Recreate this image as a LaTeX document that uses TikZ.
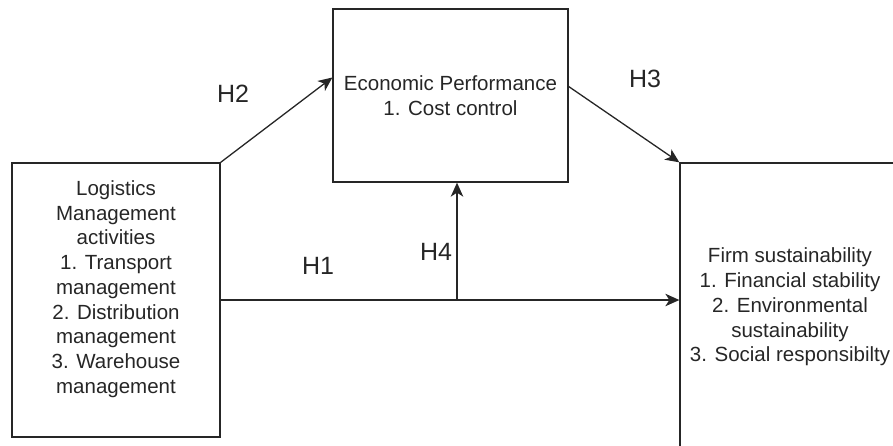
\documentclass[tikz,border=0pt]{standalone}
\usepackage{fontspec}
\setmainfont{Liberation Sans}
\usepackage{tikz}
\usetikzlibrary{arrows.meta}
\usetikzlibrary{calc}

\tikzset{
  box/.style={draw=black!85, line width=1.3pt, rectangle, inner sep=0pt},
  boxtext/.style={align=center, text=black!85, font=\fontsize{20.5}{24.7}\selectfont},
  hlabel/.style={text=black!85, font=\fontsize{25}{30}\selectfont},
  link/.style={draw=black!85, line width=1.3pt, -{Stealth[length=14pt,width=12.5pt,inset=4pt]}}
}

\begin{document}
\begin{tikzpicture}[x=1pt,y=-1pt]
\useasboundingbox (0,0) rectangle (893,445);
\clip (0,0) rectangle (893,445);

% boxes
\node[box, minimum width=208pt, minimum height=274pt] (lm) at (116,300) {};
\node[box, minimum width=235pt, minimum height=173pt] (ep) at (450.5,95.5) {};
\node[box, minimum width=220pt, minimum height=288pt] (fs) at (790,307) {};

\node[boxtext] (lmtext) at ([yshift=11pt]lm.center) {Logistics\\Management\\activities\\1. Transport\\management\\2. Distribution\\management\\3. Warehouse\\management};
\node[boxtext] (eptext) at (ep.center) {Economic Performance\\1. Cost control};
\node[boxtext] (fstext) at (fs.center) {Firm sustainability\\1. Financial stability\\2. Environmental\\sustainability\\3. Social responsibilty};

% hypotheses
\draw[link] (lm.north east) -- ([yshift=18pt]ep.west);
\draw[link] ([yshift=9pt]ep.east) -- (fs.north west);
\draw[link] (lm.east) -- (lm.east -| fs.west);
\coordinate (split) at ([xshift=6.5pt]ep.south |- lm.east);
\draw[link] (split) -- ([xshift=6.5pt]ep.south);

\node[hlabel] (h1) at (318,266) {H1};
\node[hlabel] (h2) at (233,94) {H2};
\node[hlabel] (h3) at (645,79) {H3};
\node[hlabel] (h4) at (436,252) {H4};
\end{tikzpicture}
\end{document}
